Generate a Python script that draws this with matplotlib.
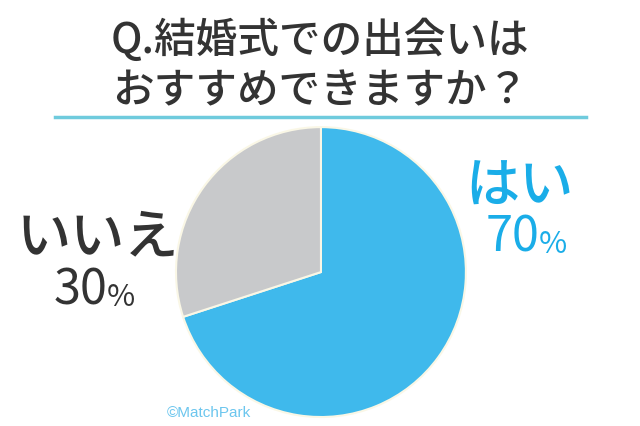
import matplotlib.pyplot as plt

plt.rcParams['font.family'] = ['Noto Sans CJK JP', 'DejaVu Sans']

labels = ['はい', 'いいえ']
values = [70, 30]
colors = ['#3FB9EC', '#C8C9CB']
title_lines = ['Q.結婚式での出会いは', 'おすすめできますか？']

fig = plt.figure(figsize=(6.4, 4.27), dpi=100)

# pie, clockwise from 12 o'clock
ax = fig.add_axes([0.275, 0.021, 0.453, 0.679])
ax.pie(values, colors=colors, startangle=90, counterclock=False,
       wedgeprops=dict(edgecolor='#FAF7E6', linewidth=1.5))
ax.set_xlim(-1.0, 1.0)
ax.set_ylim(-1.0, 1.0)
ax.set_aspect('equal')
ax.axis('off')

# title
fig.text(0.5, 1 - 40 / 427, title_lines[0], ha='center', va='center',
         fontsize=30, color='#333333', fontweight='medium')
fig.text(0.5, 1 - 91 / 427, title_lines[1], ha='center', va='center',
         fontsize=30, color='#333333', fontweight='medium')
fig.add_artist(plt.Line2D([55 / 640, 586 / 640], [1 - 118 / 427] * 2,
                          color='#6FCBDD', linewidth=2.5))

# labels
fig.text(519 / 640, 1 - 187 / 427, labels[0], ha='center', va='center',
         fontsize=39, color='#1AADE8', fontweight='medium')
fig.text(539 / 640, 1 - 238 / 427, f'{values[0]}', ha='right', va='center',
         fontsize=35, color='#1AADE8')
fig.text(539 / 640, 1 - 245 / 427, '%', ha='left', va='center',
         fontsize=22, color='#1AADE8')

fig.text(98 / 640, 1 - 237 / 427, labels[1], ha='center', va='center',
         fontsize=39, color='#333333', fontweight='medium')
fig.text(107 / 640, 1 - 291 / 427, f'{values[1]}', ha='right', va='center',
         fontsize=35, color='#333333')
fig.text(107 / 640, 1 - 298 / 427, '%', ha='left', va='center',
         fontsize=22, color='#333333')

fig.text(167 / 640, 1 - 413 / 427, '©MatchPark', ha='left', va='center',
         fontsize=11, color='#6CC6EE', family=['Liberation Sans'])

fig.savefig('out.png', dpi=100)
